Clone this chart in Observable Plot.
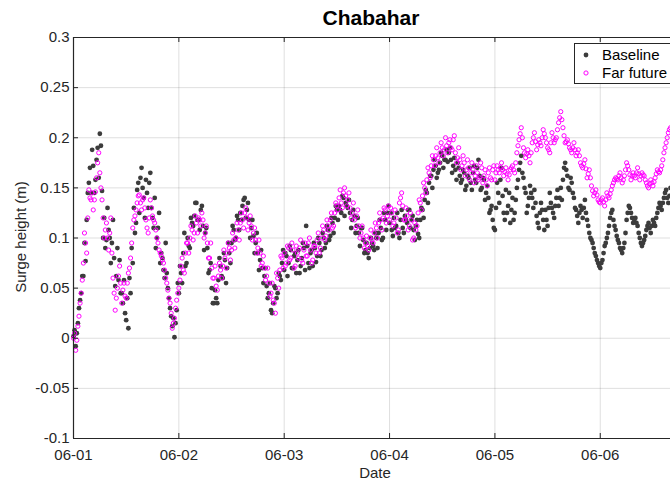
<!DOCTYPE html>
<html>
<head>
<meta charset="utf-8">
<script src="https://cdn.jsdelivr.net/npm/d3@7"></script>
<script src="https://cdn.jsdelivr.net/npm/@observablehq/plot@0.6"></script>
<style>
  body { margin: 0; background: #fff; font-family: "Liberation Sans", Arial, Helvetica, sans-serif; }
  #wrap { position: relative; width: 670px; height: 483px; overflow: hidden; background: #fff; }
  #title { position: absolute; left: 0; width: 742px; top: 6px; text-align: center; font-weight: bold; font-size: 21px; color: #000; }
  #xlabel { position: absolute; left: 0; width: 750px; top: 464px; text-align: center; font-size: 15px; color: #262626; }
  #ylabel { position: absolute; left: 20px; top: 237px; font-size: 15px; color: #262626; white-space: nowrap;
            transform: translate(-50%, -50%) rotate(-90deg); }
  #legend { position: absolute; left: 574px; top: 43px; width: 120px; height: 39px; border: 1px solid #262626;
            background: #fff; font-size: 15px; color: #000; }
  .item { position: absolute; left: 5px; height: 18px; line-height: 18px; white-space: nowrap; }
  .item svg { position: absolute; left: 0; top: 4px; }
  .item span { position: absolute; left: 22px; top: 0; }
  #chart { position: absolute; left: 0; top: 0; }
</style>
</head>
<body>
<div id="wrap">
  <div id="chart"></div>
  <div id="title">Chabahar</div>
  <div id="xlabel">Date</div>
  <div id="ylabel">Surge height (m)</div>
  <div id="legend">
    <div class="item" style="top:2px"><svg width="12" height="10"><circle cx="6" cy="5" r="2.4" fill="#3c3c3c"/></svg><span>Baseline</span></div>
    <div class="item" style="top:20px"><svg width="12" height="10"><circle cx="6" cy="5" r="2.1" fill="none" stroke="#ff00ff" stroke-width="1"/></svg><span>Far future</span></div>
  </div>
</div>
<script>
// Samples every 30 minutes from 06-01 00:00 ("...Mid" arrays: the samples 15 minutes later)
const startTime = "2020-06-01T00:00:00Z";
const stepMinutes = 30;
const endTime = "2020-06-06T16:00:00Z";

const baseline = [
  0.002,-0.008,0.015,0.038,0.062,0.095,0.118,0.155,0.145,0.172,0.158,0.19,0.204,0.147,0.12,0.098,0.108,0.075,0.118,0.052,0.09,0.078,0.045,0.058,0.018,0.01,0.045,0.075,0.105,0.148,0.125,0.17,0.14,0.158,0.13,0.165,0.12,0.14,0.1,0.125,0.085,0.068,0.095,0.05,0.03,0.012,0.001,0.028,
  0.045,0.065,0.085,0.072,0.1,0.09,0.115,0.122,0.135,0.118,0.128,0.112,0.105,0.09,0.068,0.05,0.035,0.04,0.058,0.072,0.06,0.078,0.07,0.085,0.095,0.108,0.1,0.118,0.125,0.132,0.14,0.128,0.118,0.11,0.102,0.095,0.085,0.078,0.07,0.062,0.052,0.045,0.028,0.035,0.05,0.045,0.062,0.075,
  0.068,0.082,0.075,0.088,0.07,0.085,0.078,0.065,0.08,0.09,0.112,0.075,0.085,0.072,0.09,0.082,0.095,0.088,0.1,0.095,0.108,0.102,0.115,0.12,0.128,0.132,0.125,0.14,0.135,0.13,0.125,0.118,0.122,0.112,0.105,0.11,0.098,0.088,0.085,0.09,0.095,0.088,0.1,0.105,0.11,0.1,0.118,0.125,
  0.115,0.108,0.12,0.112,0.105,0.118,0.11,0.122,0.115,0.128,0.118,0.108,0.112,0.104,0.118,0.128,0.138,0.145,0.155,0.162,0.168,0.172,0.165,0.175,0.182,0.178,0.188,0.185,0.178,0.172,0.168,0.175,0.162,0.158,0.165,0.152,0.16,0.155,0.165,0.158,0.17,0.162,0.15,0.158,0.145,0.14,0.128,0.118,
  0.108,0.155,0.135,0.17,0.125,0.148,0.132,0.115,0.14,0.125,0.15,0.168,0.182,0.16,0.145,0.132,0.152,0.14,0.148,0.122,0.11,0.135,0.118,0.128,0.112,0.145,0.13,0.12,0.14,0.132,0.15,0.158,0.175,0.162,0.148,0.155,0.14,0.128,0.115,0.132,0.12,0.138,0.118,0.105,0.098,0.09,0.082,0.075,
  0.07,0.078,0.092,0.1,0.112,0.125,0.118,0.108,0.098,0.09,0.085,0.095,0.118,0.132,0.125,0.115,0.12,0.112,0.1,0.092,0.098,0.108,0.115,0.105,0.118,0.112,0.125,0.135,0.128,0.14,0.148,0.135,0.15
];
const baselineMid = [
  0.008,0.005,0.03,0.045,0.062,0.077,0.145,0.17,0.188,0.145,0.178,0.16,0.192,0.1,0.09,0.13,0.1,0.095,0.08,0.062,0.058,0.045,0.035,0.025,0.04,0.06,0.09,0.13,0.115,0.155,0.16,0.15,0.12,0.145,0.155,0.13,0.11,0.09,0.11,0.075,0.08,0.06,0.065,0.04,0.022,0.02,0.015,0.055,
  0.072,0.055,0.105,0.075,0.092,0.12,0.112,0.135,0.118,0.108,0.132,0.088,0.11,0.065,0.075,0.035,0.048,0.035,0.08,0.062,0.085,0.055,0.095,0.075,0.112,0.098,0.122,0.108,0.118,0.138,0.12,0.135,0.1,0.118,0.085,0.105,0.068,0.088,0.055,0.07,0.04,0.055,0.025,0.052,0.04,0.065,0.058,0.088,
  0.085,0.062,0.092,0.07,0.082,0.065,0.088,0.072,0.095,0.068,0.092,0.07,0.088,0.095,0.076,0.1,0.082,0.105,0.09,0.112,0.098,0.12,0.105,0.132,0.118,0.128,0.142,0.122,0.132,0.138,0.11,0.128,0.105,0.12,0.092,0.11,0.085,0.095,0.08,0.1,0.092,0.105,0.09,0.118,0.098,0.125,0.108,0.132,
  0.125,0.102,0.11,0.125,0.1,0.128,0.105,0.118,0.128,0.11,0.122,0.098,0.118,0.1,0.13,0.12,0.148,0.135,0.162,0.15,0.178,0.16,0.168,0.185,0.17,0.178,0.176,0.19,0.165,0.18,0.158,0.17,0.155,0.168,0.148,0.162,0.17,0.148,0.172,0.155,0.178,0.148,0.16,0.138,0.152,0.125,0.132,0.11,
  0.13,0.145,0.158,0.142,0.118,0.125,0.145,0.128,0.118,0.138,0.158,0.175,0.165,0.15,0.125,0.14,0.145,0.13,0.135,0.115,0.125,0.128,0.108,0.118,0.13,0.135,0.125,0.132,0.148,0.14,0.138,0.17,0.168,0.15,0.16,0.145,0.13,0.122,0.125,0.128,0.13,0.125,0.112,0.1,0.095,0.085,0.078,0.072,
  0.075,0.085,0.095,0.105,0.12,0.128,0.112,0.102,0.095,0.088,0.09,0.105,0.125,0.13,0.12,0.118,0.115,0.105,0.095,0.095,0.102,0.112,0.11,0.112,0.115,0.12,0.13,0.132,0.135,0.145,0.14,0.142
];

const farFuture = [
  0.0,-0.012,0.012,0.035,0.058,0.105,0.085,0.148,0.138,0.128,0.146,0.175,0.165,0.138,0.1,0.115,0.088,0.12,0.06,0.028,0.05,0.072,0.035,0.055,0.04,0.065,0.08,0.11,0.122,0.135,0.143,0.128,0.14,0.118,0.105,0.138,0.122,0.115,0.1,0.088,0.082,0.075,0.06,0.048,0.035,0.01,0.02,0.038,
  0.05,0.072,0.068,0.085,0.095,0.1,0.108,0.105,0.115,0.12,0.112,0.118,0.105,0.095,0.08,0.07,0.06,0.052,0.062,0.068,0.072,0.08,0.085,0.09,0.088,0.098,0.1,0.108,0.115,0.118,0.125,0.12,0.115,0.112,0.105,0.098,0.09,0.085,0.075,0.07,0.062,0.055,0.045,0.038,0.025,0.06,0.068,0.08,
  0.085,0.075,0.09,0.08,0.088,0.072,0.085,0.09,0.078,0.088,0.082,0.095,0.088,0.078,0.092,0.098,0.085,0.1,0.108,0.102,0.112,0.118,0.11,0.125,0.132,0.14,0.135,0.145,0.142,0.138,0.13,0.125,0.118,0.122,0.112,0.105,0.1,0.095,0.092,0.1,0.098,0.105,0.11,0.115,0.118,0.12,0.128,0.122,
  0.118,0.125,0.115,0.12,0.108,0.14,0.132,0.118,0.122,0.112,0.118,0.1,0.108,0.125,0.135,0.142,0.15,0.158,0.165,0.172,0.178,0.182,0.18,0.185,0.19,0.188,0.192,0.195,0.19,0.198,0.185,0.18,0.178,0.172,0.175,0.168,0.17,0.165,0.168,0.162,0.165,0.16,0.17,0.162,0.158,0.165,0.16,0.168,
  0.158,0.172,0.165,0.175,0.162,0.17,0.158,0.168,0.172,0.165,0.185,0.198,0.21,0.19,0.18,0.188,0.175,0.195,0.205,0.188,0.198,0.192,0.208,0.2,0.19,0.185,0.205,0.195,0.2,0.215,0.226,0.21,0.195,0.198,0.19,0.185,0.195,0.182,0.188,0.175,0.17,0.178,0.16,0.168,0.152,0.142,0.148,0.138,
  0.135,0.14,0.132,0.145,0.14,0.148,0.155,0.16,0.158,0.165,0.155,0.162,0.175,0.168,0.158,0.165,0.16,0.17,0.158,0.165,0.162,0.155,0.15,0.158,0.152,0.16,0.168,0.165,0.172,0.185,0.195,0.205,0.21
];
const farFutureMid = [
  0.005,-0.002,0.022,0.045,0.075,0.095,0.12,0.14,0.145,0.138,0.16,0.185,0.15,0.12,0.108,0.1,0.105,0.085,0.045,0.04,0.062,0.055,0.048,0.042,0.055,0.07,0.095,0.118,0.128,0.142,0.135,0.138,0.13,0.11,0.12,0.13,0.118,0.108,0.095,0.085,0.078,0.068,0.055,0.04,0.025,0.015,0.03,0.045,
  0.058,0.08,0.065,0.095,0.085,0.112,0.098,0.122,0.105,0.118,0.125,0.1,0.112,0.08,0.095,0.06,0.072,0.048,0.075,0.06,0.088,0.07,0.095,0.078,0.105,0.09,0.115,0.098,0.125,0.11,0.13,0.108,0.122,0.098,0.11,0.085,0.098,0.072,0.082,0.058,0.07,0.042,0.055,0.035,0.065,0.05,0.082,0.07,
  0.072,0.092,0.078,0.095,0.07,0.092,0.08,0.098,0.075,0.095,0.082,0.1,0.075,0.092,0.085,0.105,0.09,0.112,0.098,0.118,0.108,0.125,0.112,0.135,0.128,0.148,0.13,0.15,0.132,0.145,0.12,0.135,0.11,0.128,0.1,0.112,0.09,0.102,0.088,0.108,0.095,0.115,0.1,0.125,0.108,0.13,0.115,0.132,
  0.13,0.112,0.128,0.105,0.135,0.145,0.118,0.13,0.108,0.125,0.098,0.115,0.112,0.138,0.128,0.155,0.145,0.17,0.16,0.182,0.172,0.19,0.175,0.195,0.182,0.2,0.185,0.198,0.188,0.202,0.175,0.19,0.168,0.182,0.162,0.178,0.158,0.175,0.155,0.172,0.158,0.175,0.155,0.168,0.152,0.17,0.158,0.172,
  0.165,0.168,0.17,0.168,0.166,0.164,0.163,0.17,0.168,0.175,0.192,0.204,0.2,0.185,0.184,0.182,0.185,0.2,0.196,0.193,0.195,0.2,0.204,0.195,0.188,0.195,0.2,0.198,0.208,0.22,0.218,0.202,0.196,0.194,0.188,0.19,0.188,0.185,0.182,0.172,0.174,0.169,0.164,0.16,0.147,0.145,0.143,0.136,
  0.138,0.136,0.138,0.142,0.144,0.152,0.158,0.159,0.162,0.16,0.158,0.168,0.172,0.163,0.162,0.162,0.165,0.164,0.162,0.163,0.158,0.152,0.154,0.155,0.156,0.164,0.166,0.168,0.178,0.19,0.2,0.208
];

const xTickLabels = ["06-01", "06-02", "06-03", "06-04", "06-05", "06-06"];
const yTicks = [-0.1, -0.05, 0, 0.05, 0.1, 0.15, 0.2, 0.25, 0.3];

const t0 = new Date(startTime);
const tEnd = new Date(endTime);
const timeAt = (i, offsetMin) => new Date(t0.getTime() + (i * stepMinutes + offsetMin) * 60000);
const toRows = (vals, off) => vals.map((v, i) => ({date: timeAt(i, off), value: v}));
const baseRows = toRows(baseline, 0).concat(toRows(baselineMid, 15));
const ffRows = toRows(farFuture, 0).concat(toRows(farFutureMid, 15));
const xTicks = xTickLabels.map(s => new Date(`2020-${s}T00:00:00Z`));

const W = 670, H = 483, mL = 73, mR = 0, mT = 37, mB = 45;
const plotW = W - mL - mR, plotH = H - mT - mB;
const axisColor = "#262626";
const font = '"Liberation Sans", Arial, Helvetica, sans-serif';

const chart = Plot.plot({
  width: W, height: H,
  marginLeft: mL, marginRight: mR, marginTop: mT, marginBottom: mB,
  style: {fontFamily: font, fontSize: "15px", color: axisColor, background: "transparent", overflow: "visible"},
  x: {type: "utc", domain: [t0, tEnd]},
  y: {domain: [-0.1, 0.3]},
  marks: [
    Plot.gridX(xTicks, {stroke: axisColor, strokeOpacity: 0.15, strokeWidth: 1}),
    Plot.gridY(yTicks, {stroke: axisColor, strokeOpacity: 0.15, strokeWidth: 1}),
    Plot.dot(baseRows, {x: "date", y: "value", r: 2.4, fill: "#3c3c3c", stroke: null}),
    Plot.dot(ffRows, {x: "date", y: "value", r: 2.1, fill: "none", stroke: "#ff00ff", strokeWidth: 1}),
    Plot.ruleY([-0.1, 0.3], {stroke: axisColor, strokeWidth: 1.2}),
    Plot.ruleX([t0], {stroke: axisColor, strokeWidth: 1.2}),
    Plot.tickY(yTicks, {y: d => d, stroke: axisColor, insetRight: plotW - 5}),
    Plot.tickX(xTicks, {x: d => d, stroke: axisColor, insetTop: plotH - 5}),
    Plot.tickX(xTicks, {x: d => d, stroke: axisColor, insetBottom: plotH - 5}),
    Plot.axisX(xTicks, {tickSize: 0, tickPadding: 11, tickFormat: d3.utcFormat("%m-%d"), label: null, fontSize: 15}),
    Plot.axisY(yTicks, {tickSize: 0, tickPadding: 4, tickFormat: d => String(d), label: null, fontSize: 15})
  ]
});
document.getElementById("chart").appendChild(chart);
</script>
</body>
</html>
